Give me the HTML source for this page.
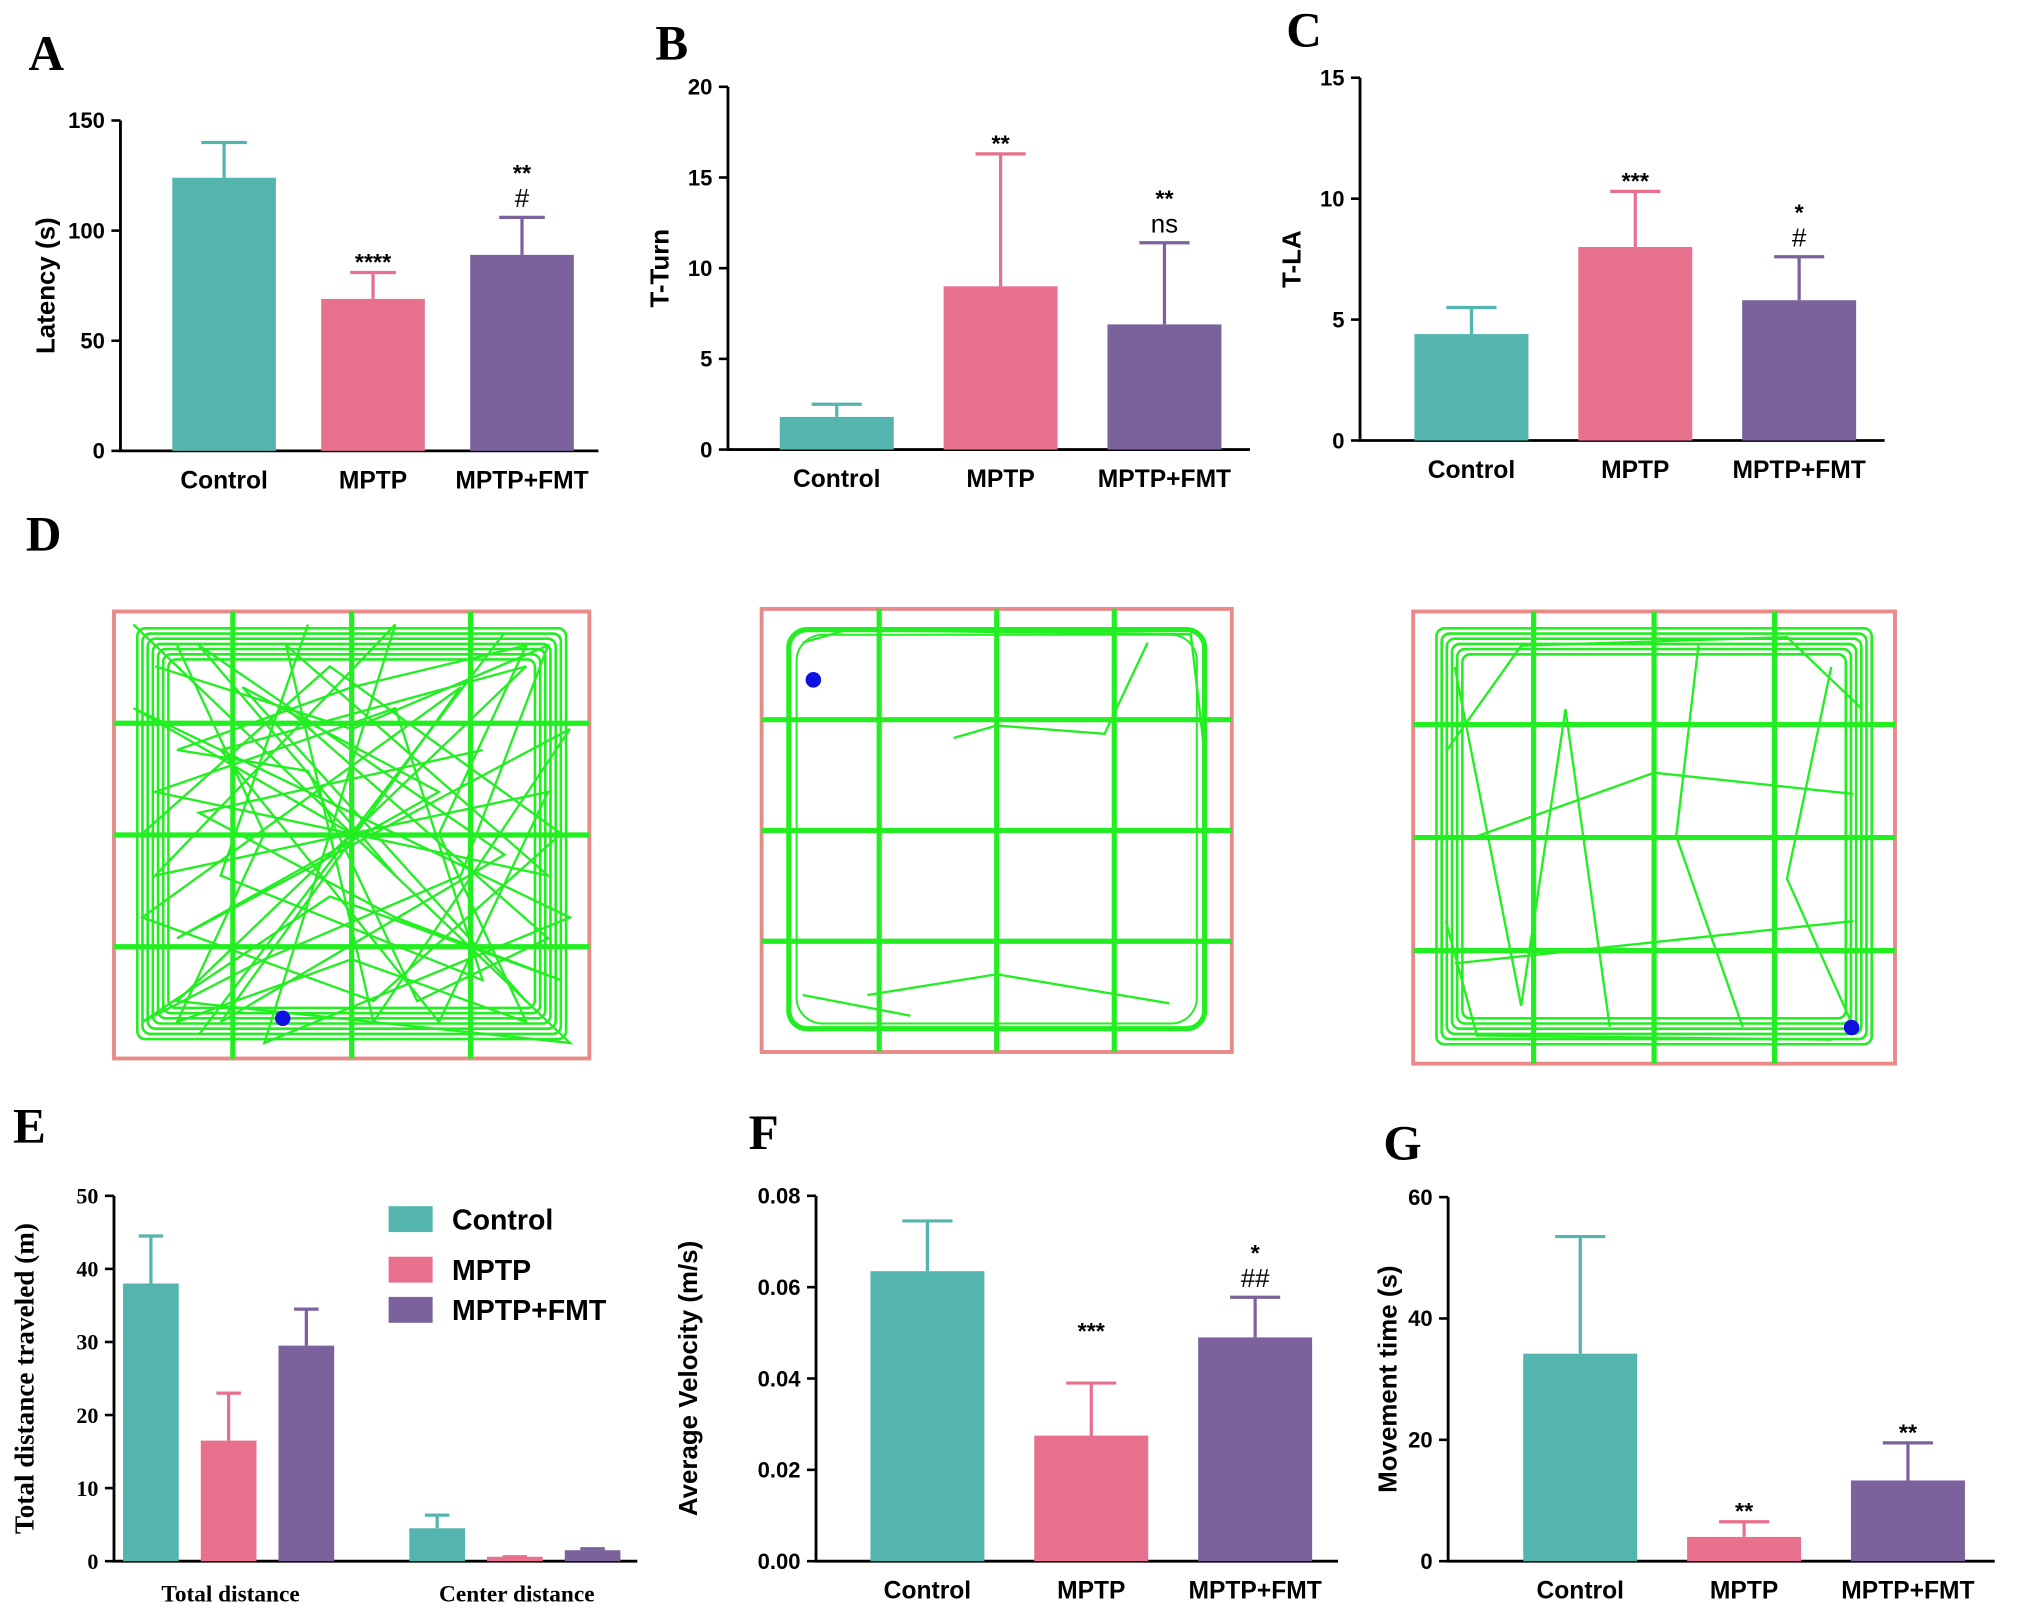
<!DOCTYPE html>
<html><head><meta charset="utf-8"><style>
html,body{margin:0;padding:0;background:#fff}
svg{display:block}
text{font-family:"Liberation Sans",Arial,sans-serif}
.ser{font-family:"Liberation Serif","Times New Roman",serif}
</style></head><body>
<svg id="fig" xmlns="http://www.w3.org/2000/svg" width="2031" height="1613" viewBox="0 0 1568 1245" preserveAspectRatio="none">
<g font-weight="bold" font-size="38" class="ser">
<text class="ser" x="22" y="54">A</text>
<text class="ser" x="506" y="46">B</text>
<text class="ser" x="993" y="36">C</text>
<text class="ser" x="20" y="425">D</text>
<text class="ser" x="10" y="882">E</text>
<text class="ser" x="578" y="887">F</text>
<text class="ser" x="1068" y="895">G</text>
</g>
<g id="charts"></g>
<g id="tracks"></g>
</svg>
<script>
const colors=["#53b5ad","#e8708f","#7b629d"];
const groups=["Control","MPTP","MPTP+FMT"];
// Panel A
const aValues=[124,69,89];
const aErrors=[140,81,106];
const aTicks=[0,50,100,150];
const aAnnot=[[],["****"],["**","#"]];
// Panel B
const bValues=[1.8,9,6.9];
const bErrors=[2.5,16.3,11.4];
const bTicks=[0,5,10,15,20];
const bAnnot=[[],["**"],["**","ns"]];
// Panel C
const cValues=[4.4,8,5.8];
const cErrors=[5.5,10.3,7.6];
const cTicks=[0,5,10,15];
const cAnnot=[[],["***"],["*","#"]];
// Panel E
const eCategories=["Total distance","Center distance"];
const eValuesControl=[38,4.5];
const eValuesMPTP=[16.5,0.6];
const eValuesFMT=[29.5,1.5];
const eErrControl=[44.5,6.3];
const eErrMPTP=[23,0.6];
const eErrFMT=[34.5,1.7];
const eTicks=[0,10,20,30,40,50];
// Panel F
const fValues=[0.0635,0.0275,0.049];
const fErrors=[0.0745,0.039,0.0578];
const fTicks=[0,0.02,0.04,0.06,0.08];
const fTickLabels=["0.00","0.02","0.04","0.06","0.08"];
const fAnnot=[[],["***"],["*","##"]];
// Panel G
const gValues=[34.2,4,13.3];
const gErrors=[53.5,6.5,19.5];
const gTicks=[0,20,40,60];
const gAnnot=[[],["**"],["**"]];

const NS="http://www.w3.org/2000/svg";
const root=document.getElementById('charts');
function mk(tag,attrs,parent){const e=document.createElementNS(NS,tag);for(const k in attrs)e.setAttribute(k,attrs[k]);(parent||root).appendChild(e);return e;}
function txt(s,attrs,parent){const e=mk('text',attrs,parent);e.textContent=s;return e;}

function axes(g,cfg,ticks,labels){
  const y=v=>cfg.y0-(v/cfg.max)*(cfg.y0-cfg.y1);
  const ax=mk('path',{d:`M${cfg.x0} ${cfg.y1}V${cfg.y0}H${cfg.xEnd}`,stroke:'#000','stroke-width':2.2,fill:'none'},g);
  
  
  ticks.forEach((t,i)=>{
    mk('line',{x1:cfg.x0-7,x2:cfg.x0,y1:y(t),y2:y(t),stroke:'#000','stroke-width':2},g);
    const tl=txt(labels?labels[i]:String(t),{x:cfg.x0-12,y:y(t)+6,'text-anchor':'end','font-size':17,'font-weight':'bold',class:cfg.serif?'ser':''},g);
    
    
  });
  const yt=txt(cfg.ylabel,{transform:`translate(${cfg.ylx},${(cfg.y0+cfg.y1)/2}) rotate(-90)`,'text-anchor':'middle','font-size':cfg.ylfs||20,'font-weight':'bold',class:cfg.serif?'ser':''},g);
  
  
  return y;
}
function bar(g,y,x,w,v,err,col){
  const b=mk('rect',{x:x,y:y(v),width:w,height:y(0)-y(v),fill:col},g);
  
  
  const cx=x+w/2;
  const e=mk('path',{d:`M${cx} ${y(v)}V${y(err)}M${cx-w*0.22} ${y(err)}H${cx+w*0.22}`,stroke:col,'stroke-width':2.5,fill:'none'},g);
  
  
}
function panel(name,cfg,values,errors,ticks,annot,labels){
  const g=mk('g',{});
  
  
  const y=axes(g,cfg,ticks,labels);
  values.forEach((v,i)=>{
    const x=cfg.bx0+i*cfg.step;
    bar(g,y,x,cfg.bw,v,errors[i],colors[i]);
    const xl=txt(groups[i],{x:x+cfg.bw/2,y:cfg.y0+29,'text-anchor':'middle','font-size':19,'font-weight':'bold'},g);
    
    
    const an=annot[i];
    let ay=y(errors[i])-8-((cfg.lift&&cfg.lift[i])||0);
    for(let k=an.length-1;k>=0;k--){
      const s=an[k];
      const t=txt(s,{x:x+cfg.bw/2,y:ay+(s.startsWith('*')?6:0),'text-anchor':'middle','font-size':s.startsWith('*')?18:20,'font-weight':s.startsWith('*')?'bold':'normal'},g);
      
      
      ay-=s.startsWith('*')?22:26;
    }
  });
}
panel('panel-a-latency',{x0:93,y0:348,y1:93,max:150,xEnd:462,bx0:133,step:115,bw:80,ylabel:'Latency (s)',ylx:42},aValues,aErrors,aTicks,aAnnot);
panel('panel-b-t-turn',{x0:562,y0:347,y1:67,max:20,xEnd:965,bx0:602,step:126.5,bw:88,ylabel:'T-Turn',ylx:516},bValues,bErrors,bTicks,bAnnot);
panel('panel-c-t-la',{x0:1050,y0:340,y1:60,max:15,xEnd:1455,bx0:1092,step:126.5,bw:88,ylabel:'T-LA',ylx:1004},cValues,cErrors,cTicks,cAnnot);
panel('panel-f-velocity',{x0:630,y0:1205,y1:923,max:0.08,xEnd:1033,bx0:672,step:126.5,bw:88,ylabel:'Average Velocity (m/s)',ylx:538,lift:[0,32,0]},fValues,fErrors,fTicks,fAnnot,fTickLabels);
panel('panel-g-movement',{x0:1118,y0:1205,y1:924,max:60,xEnd:1540,bx0:1176,step:126.5,bw:88,ylabel:'Movement time (s)',ylx:1078},gValues,gErrors,gTicks,gAnnot);

// Panel E
(function(){
  const g=mk('g',{});
  
  
  const cfg={x0:88,y0:1205,y1:923,max:50,xEnd:492,ylabel:'Total distance traveled (m)',ylx:26,serif:true,ylfs:21};
  const y=axes(g,cfg,eTicks);
  const vals=[eValuesControl,eValuesMPTP,eValuesFMT];
  const errs=[eErrControl,eErrMPTP,eErrFMT];
  eCategories.forEach((c,ci)=>{
    const gx=95+ci*221;
    vals.forEach((s,si)=>bar(g,y,gx+si*60,43,s[ci],errs[si][ci],colors[si]));
    const t=txt(c,{x:gx+83,y:1236,'text-anchor':'middle','font-size':18,'font-weight':'bold',class:'ser'},g);
    
    
  });
  groups.forEach((n,i)=>{
    const ly=[931,970,1001][i];
    const r=mk('rect',{x:300,y:ly,width:34,height:20,fill:colors[i]},g);
    
    
    const t=txt(n,{x:349,y:ly+18,'font-size':22,'font-weight':'bold'},g);
    
    
  });
})();

// Panel D tracks (illustrative trajectory images)
const tr=document.getElementById('tracks');
function arena(name,x0,y0,x1,y1,dense,paths,dot){
  const g=mk('g',{},tr);
  
  
  const w=x1-x0,h=y1-y0;
  mk('rect',{x:x0,y:y0,width:w,height:h,fill:'none',stroke:'#e88a8a','stroke-width':3},g);
  const ix=x0+15,iy=y0+10,iw=w-30,ih=h-22;
  if(dense){
    for(let k=0;k<dense;k++){
      const o=3+k*4;
      mk('rect',{x:ix+o,y:iy+o,width:iw-2*o,height:ih-2*o,rx:6,fill:'none',stroke:'#22ee22','stroke-width':2},g);
    }
  } else {
    mk('rect',{x:ix+6,y:iy+6,width:iw-12,height:ih-12,rx:14,fill:'none',stroke:'#22ee22','stroke-width':4},g);
    mk('rect',{x:ix+12,y:iy+10,width:iw-24,height:ih-20,rx:20,fill:'none',stroke:'#22ee22','stroke-width':1.5},g);
  }
  paths.forEach(p=>{
    mk('path',{d:p.map((q,i)=>(i?'L':'M')+(ix+q[0]*iw)+' '+(iy+q[1]*ih)).join(''),fill:'none',stroke:'#22ee22','stroke-width':1.8},g);
  });
  for(let i=1;i<4;i++){
    mk('line',{x1:x0+w*i/4,x2:x0+w*i/4,y1:y0,y2:y1,stroke:'#22ee22','stroke-width':4},g);
    mk('line',{x1:x0,x2:x1,y1:y0+h*i/4,y2:y0+h*i/4,stroke:'#22ee22','stroke-width':4},g);
  }
  if(dot) mk('circle',{cx:x0+dot[0]*w,cy:y0+dot[1]*h,r:6,fill:'#1010e0'},g);
}
const p1=[[[0,0],[1,1],[0.1,0.9],[0.9,0.1],[0.2,0.3],[0.7,0.95],[0.95,0.4],[0.05,0.6],[0.6,0],[0.3,1],[1,0.7],[0,0.2],[0.5,0.5],[0.85,0.02],[0.15,0.98]],
 [[0.4,0],[0.2,0.6],[0.8,0.85],[0.6,0.2],[0.05,0.4],[0.95,0.6],[0.35,0.05],[0.55,0.95],[1,0.25],[0.1,0.75],[0.7,0.4],[0.25,0.15],[0.9,0.9]],
 [[0.05,0.1],[0.5,0.25],[0.95,0.05],[0.75,0.6],[0.3,0.8],[0.02,0.95],[0.45,0.65],[0.98,0.85],[0.6,0.7],[0.15,0.45],[0.8,0.3]],
 [[0.1,0.05],[0.3,0.5],[0.1,0.95],[0.5,0.8],[0.9,0.95],[0.7,0.5],[0.9,0.05],[0.5,0.15],[0.1,0.3],[0.4,0.35],[0.65,0.9],[0.95,0.75],[0.35,0.2]],
 [[0.02,0.5],[0.45,0.1],[0.98,0.5],[0.55,0.9],[0.02,0.7],[0.75,0.15],[0.2,0.95],[0.85,0.55],[0.15,0.05],[0.6,0.6]]];
const p2=[[[0.4,0.28],[0.5,0.25],[0.75,0.27],[0.85,0.05]],[[0.2,0.9],[0.5,0.85],[0.9,0.92]],[[0.05,0.9],[0.3,0.95]],[[0.05,0.05],[0.15,0.02],[0.95,0.03],[0.98,0.3]]];
const p3=[[[0.05,0.1],[0.2,0.9],[0.3,0.2],[0.4,0.95]],[[0.6,0.05],[0.55,0.5],[0.7,0.95]],[[0.9,0.1],[0.8,0.6],[0.95,0.95]],[[0.1,0.5],[0.5,0.35],[0.95,0.4]],[[0.05,0.8],[0.5,0.75],[0.95,0.7]],[[0.03,0.3],[0.2,0.05],[0.8,0.03],[0.97,0.2]],[[0.03,0.7],[0.1,0.97],[0.9,0.98]]];
arena('track-control',88,472,455,817,7,p1,[0.355,0.91]);
arena('track-mptp',588,470,951,812,0,p2,[0.11,0.16]);
arena('track-mptp-fmt',1091,472,1463,821,6,p3,[0.91,0.92]);
</script>
</body></html>
